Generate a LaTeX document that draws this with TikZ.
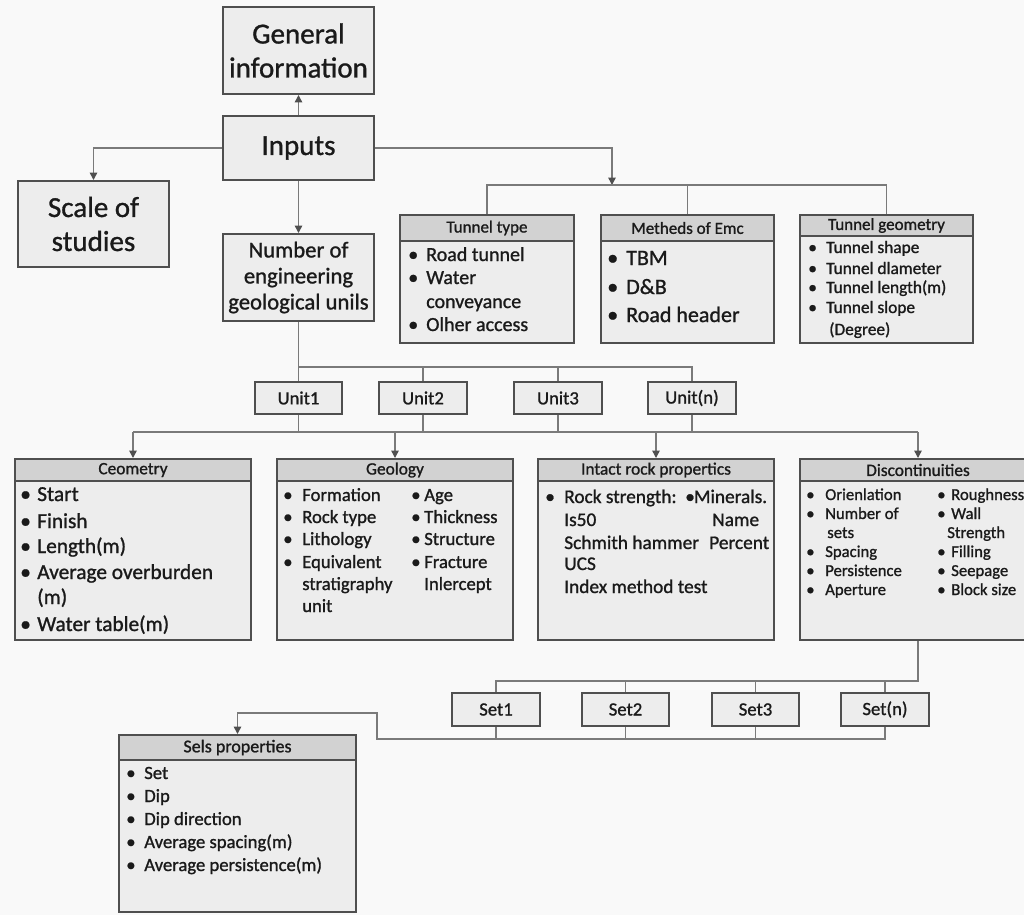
\documentclass[tikz,border=0pt]{standalone}
\usepackage{fontspec}
\setmainfont{Carlito}[FakeBold=1.1]
\usetikzlibrary{arrows.meta}
\definecolor{bg}{HTML}{F9F9F9}
\definecolor{boxfill}{HTML}{EDEDED}
\definecolor{headfill}{HTML}{D2D2D2}
\definecolor{edge}{HTML}{4F4F4F}
\definecolor{conn}{HTML}{7A7A7A}
\definecolor{ink}{HTML}{1A1A1A}
\newcommand\bl[1]{\makebox[#1pt][l]{\textbullet}}
% \bx{name}{x1}{y1}{x2}{y2}{style}{text}
\newcommand\bx[7]{\node[#6, minimum width={(#4-#2)*0.75pt}, minimum height={(#5-#3)*0.75pt}] (#1) at ({(#2+#4)/2},{(#3+#5)/2}) {#7};}
\begin{document}
\begin{tikzpicture}[x=0.75pt,y=-0.75pt,
  box/.style={draw=edge, line width=1.5pt, fill=boxfill, inner sep=0pt, text=ink, align=center},
  head/.style={draw=edge, line width=1.5pt, fill=headfill, inner sep=0pt, text=ink},
  it/.style={anchor=base west, inner sep=0pt, text=ink},
  conn/.style={draw=conn, line width=1.1pt},
  arr/.style={conn, -{Triangle[length=5.5pt,width=5.5pt,color=edge]}},
  bigf/.style={font=\fontsize{21.75}{25.5}\selectfont},
  numf/.style={font=\fontsize{17}{19.5}\selectfont},
  unitf/.style={font=\fontsize{14}{16}\selectfont},
  hdf/.style={font=\fontsize{12.75}{15}\selectfont},
  hdg/.style={font=\fontsize{13}{15}\selectfont}
]
\clip (0,0) rectangle (1024,915);
\fill[bg] (0,0) rectangle (1024,915);

% ---- top boxes
\bx{gen}{223}{7}{374}{94}{box, bigf}{General\\information}
\bx{inp}{223}{116}{374}{180}{box, bigf}{Inputs}
\bx{scale}{18}{181}{169}{267}{box, bigf}{Scale of\\studies}
\bx{num}{223}{234}{374}{321}{box, numf}{Number of\\engineering\\geological unils}

% ---- tunnel type
\bx{tt}{400}{215}{574}{343}{box}{}
\bx{tth}{400}{215}{574}{241}{head, hdf}{Tunnel type}
\begin{scope}[every node/.append style={font=\fontsize{15}{18}\selectfont}]
\node[it] (tt1) at (408,261) {\bl{13.5}Road tunnel};
\node[it] (tt2) at (408,284) {\bl{13.5}Water};
\node[it] (tt3) at (426,308) {conveyance};
\node[it] (tt4) at (408,331) {\bl{13.5}Olher access};
\end{scope}

% ---- methods
\bx{me}{601}{215}{774}{343}{box}{}
\bx{meh}{601}{215}{774}{241}{head, hdf}{Metheds of Emc}
\begin{scope}[every node/.append style={font=\fontsize{16.5}{19}\selectfont}]
\node[it] (me1) at (607,265) {\bl{14.25}TBM};
\node[it] (me2) at (607,294) {\bl{14.25}D\&B};
\node[it] (me3) at (607,322) {\bl{14.25}Road header};
\end{scope}

% ---- tunnel geometry
\bx{tg}{800}{215}{973}{343}{box}{}
\bx{tgh}{800}{215}{973}{236}{head, hdf}{Tunnel geometry}
\begin{scope}[every node/.append style={font=\fontsize{13}{15}\selectfont}]
\node[it] (tg1) at (808,253) {\bl{13.5}Tunnel shape};
\node[it] (tg2) at (808,274) {\bl{13.5}Tunnel dlameter};
\node[it] (tg3) at (808,293) {\bl{13.5}Tunnel length(m)};
\node[it] (tg4) at (808,313) {\bl{13.5}Tunnel slope};
\node[it] (tg5) at (829,335) {(Degree)};
\end{scope}

% ---- units
\bx{u1}{255}{382}{342}{414}{box, unitf}{Unit1}
\bx{u2}{379}{382}{467}{414}{box, unitf}{Unit2}
\bx{u3}{514}{382}{602}{414}{box, unitf}{Unit3}
\bx{un}{648}{382}{736}{414}{box, unitf}{Unit(n)}

% ---- geometry
\bx{geo}{15}{459}{251}{640}{box}{}
\bx{geoh}{15}{459}{251}{481}{head, hdg}{Ceometry}
\begin{scope}[every node/.append style={font=\fontsize{16}{19}\selectfont}]
\node[it] (geo1) at (20,501) {\bl{12.75}Start};
\node[it] (geo2) at (20,528) {\bl{12.75}Finish};
\node[it] (geo3) at (20,553) {\bl{12.75}Length(m)};
\node[it] (geo4) at (20,579) {\bl{12.75}Average overburden};
\node[it] (geo5) at (37,604) {(m)};
\node[it] (geo6) at (20,631) {\bl{12.75}Water table(m)};
\end{scope}

% ---- geology
\bx{gy}{277}{459}{513}{640}{box}{}
\bx{gyh}{277}{459}{513}{481}{head, hdg}{Geology}
\begin{scope}[every node/.append style={font=\fontsize{14}{16}\selectfont}]
\node[it] (gy1) at (283,501) {\bl{14.25}Formation};
\node[it] (gy2) at (283,523) {\bl{14.25}Rock type};
\node[it] (gy3) at (283,545) {\bl{14.25}Lithology};
\node[it] (gy4) at (283,568) {\bl{14.25}Equivalent};
\node[it] (gy5) at (302,590) {stratigraphy};
\node[it] (gy6) at (302,612) {unit};
\node[it] (gy7) at (411,501) {\bl{9.75}Age};
\node[it] (gy8) at (411,523) {\bl{9.75}Thickness};
\node[it] (gy9) at (411,545) {\bl{9.75}Structure};
\node[it] (gy10) at (411,568) {\bl{9.75}Fracture};
\node[it] (gy11) at (424,590) {Inlercept};
\end{scope}

% ---- intact rock
\bx{ir}{538}{459}{774}{640}{box}{}
\bx{irh}{538}{459}{774}{481}{head, hdg}{Intact rock propertics}
\begin{scope}[every node/.append style={font=\fontsize{14.5}{17}\selectfont}]
\node[it] (ir1) at (545,503) {\bl{14.25}Rock strength:};
\node[it] (ir2) at (685,503) {\bl{6.5}Minerals.};
\node[it] (ir3) at (564,526) {Is50};
\node[it] (ir4) at (712,526) {Name};
\node[it] (ir5) at (564,549) {Schmith hammer};
\node[it] (ir6) at (709,549) {Percent};
\node[it] (ir7) at (564,570) {UCS};
\node[it] (ir8) at (564,593) {Index method test};
\end{scope}

% ---- discontinuities
\bx{dis}{800}{459}{1036}{640}{box}{}
\bx{dish}{800}{459}{1036}{481}{head, hdg}{Discontinuities}
\begin{scope}[every node/.append style={font=\fontsize{12.5}{15}\selectfont}]
\node[it] (d1) at (806,500) {\bl{14.25}Orienlation};
\node[it] (d2) at (806,519) {\bl{14.25}Number of};
\node[it] (d3) at (827,538) {sets};
\node[it] (d4) at (806,557) {\bl{14.25}Spacing};
\node[it] (d5) at (806,576) {\bl{14.25}Persistence};
\node[it] (d6) at (806,595) {\bl{14.25}Aperture};
\node[it] (d7) at (937,500) {\bl{10.5}Roughness};
\node[it] (d8) at (937,519) {\bl{10.5}Wall};
\node[it] (d9) at (947,538) {Strength};
\node[it] (d10) at (937,557) {\bl{10.5}Filling};
\node[it] (d11) at (937,576) {\bl{10.5}Seepage};
\node[it] (d12) at (937,595) {\bl{10.5}Block size};
\end{scope}

% ---- sets
\bx{s1}{452}{693}{540}{726}{box, unitf}{Set1}
\bx{s2}{582}{693}{669}{726}{box, unitf}{Set2}
\bx{s3}{712}{693}{799}{726}{box, unitf}{Set3}
\bx{sn}{841}{693}{929}{726}{box, unitf}{Set(n)}

% ---- sets properties
\bx{sp}{119}{735}{356}{912}{box}{}
\bx{sph}{119}{735}{356}{760}{head, font=\fontsize{13.5}{16}\selectfont}{Sels properties}
\begin{scope}[every node/.append style={font=\fontsize{14}{16}\selectfont}]
\node[it] (sp1) at (126,779) {\bl{13.5}Set};
\node[it] (sp2) at (126,802) {\bl{13.5}Dip};
\node[it] (sp3) at (126,825) {\bl{13.5}Dip direction};
\node[it] (sp4) at (126,848) {\bl{13.5}Average spacing(m)};
\node[it] (sp5) at (126,871) {\bl{13.5}Average persistence(m)};
\end{scope}

% ---- connectors
\draw[arr] (inp.north) -- (gen.south);
\draw[arr] (inp.west) -| (scale.north);
\draw[arr] (inp.south) -- (num.north);
\coordinate (tbar) at (612,185);
\draw[arr] (inp.east) -| (tbar);
\draw[conn] (tt.north) |- (tbar) -| (tg.north);
\draw[conn] (me.north) -- (me.north |- tbar);

\coordinate (ubar) at (0,367);
\draw[conn] (num.south) -- (u1.north);
\draw[conn] (u1.north |- ubar) -| (un.north);
\draw[conn] (u2.north) -- (u2.north |- ubar);
\draw[conn] (u3.north) -- (u3.north |- ubar);

\coordinate (lbar) at (0,432);
\draw[conn] (u1.south) -- (u1.south |- lbar);
\draw[conn] (u2.south) -- (u2.south |- lbar);
\draw[conn] (u3.south) -- (u3.south |- lbar);
\draw[conn] (un.south) -- (un.south |- lbar);
\draw[conn] (geo.north |- lbar) -- (dis.north |- lbar);
\draw[arr] (geo.north |- lbar) -- (geo.north);
\draw[arr] (gy.north |- lbar) -- (gy.north);
\draw[arr] (ir.north |- lbar) -- (ir.north);
\draw[arr] (dis.north |- lbar) -- (dis.north);

\coordinate (sbar) at (0,681);
\draw[conn] (dis.south) |- (s1.north |- sbar) -- (s1.north);
\draw[conn] (s2.north) -- (s2.north |- sbar);
\draw[conn] (s3.north) -- (s3.north |- sbar);
\draw[conn] (sn.north) -- (sn.north |- sbar);

\coordinate (sb) at (377,739);
\coordinate (sk) at (377,713);
\draw[conn] (s1.south) -- (s1.south |- sb);
\draw[conn] (s2.south) -- (s2.south |- sb);
\draw[conn] (s3.south) -- (s3.south |- sb);
\draw[arr] (sn.south) |- (sb) -- (sk) -| (sp.north);
\end{tikzpicture}
\end{document}
